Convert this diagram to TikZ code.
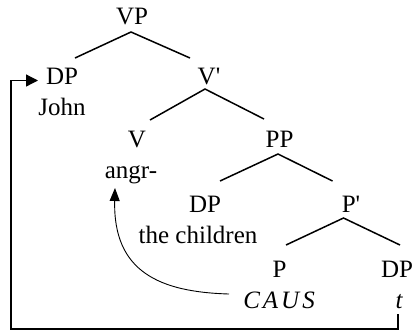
\documentclass[tikz,border=0pt]{standalone}
\usepackage{fontspec}
\setmainfont{Liberation Serif}
\usetikzlibrary{arrows.meta,calc}
\begin{document}
\begin{tikzpicture}[x=1pt,y=-1pt,
  lbl/.style={anchor=base,inner sep=0pt,font=\fontsize{25}{29}\selectfont},
  edge/.style={line width=1.5pt,line join=miter},
  mv/.style={line width=1.3pt},
  curv/.style={line width=0.9pt}]
\useasboundingbox (0,0) rectangle (414,333);
\node[lbl] (VP) at (132,24) {VP};
\node[lbl] (DPa) at (62,84) {DP};
\node[lbl] (John) at (62,115) {John};
\node[lbl] (Vbar) at (209,84) {V\textquotesingle};
\node[lbl] (V) at (137,147) {V};
\node[lbl] (angr) at (131,178) {angr-};
\node[lbl] (PP) at (279.5,147) {PP};
\node[lbl] (DPb) at (205,212) {DP};
\node[lbl] (child) at (198,243) {the children};
\node[lbl] (Pbar) at (351,212) {P\textquotesingle};
\node[lbl] (P) at (279.5,277) {P};
\node[lbl] (CAUS) at (279,308) {\itshape C\kern3pt A\kern3pt U\kern3pt S};
\node[lbl] (DPc) at (397,277) {DP};
\node[lbl] (t) at (399,308) {\itshape t};
\draw[edge] ($(DPa.base)+(13,-26)$) -- ($(VP.base)+(-1,8)$) -- ($(Vbar.base)+(-19,-26)$);
\draw[edge] ($(V.base)+(13,-27)$) -- ($(Vbar.base)+(-4,5)$) -- ($(PP.base)+(-15.5,-28)$);
\draw[edge] ($(DPb.base)+(15,-31)$) -- ($(PP.base)+(-1.5,7)$) -- ($(Pbar.base)+(-18.5,-31)$);
\draw[edge] ($(P.base)+(6.5,-32)$) -- ($(Pbar.base)+(-7.5,6)$) -- ($(DPc.base)+(3,-32)$);
\coordinate (bot) at (11,329);
\draw[mv,-{Triangle[length=12pt,width=12pt]}] ($(t.base)+(-1,6)$) |- (bot) |- ($(DPa.base)+(-24,-3.5)$);
\draw[curv,-{Triangle[length=13pt,width=10pt]}] ($(CAUS.base)+(-50,-14)$) .. controls (160,292) and (113,272) .. ($(angr.base)+(-16,10)$);
\end{tikzpicture}
\end{document}
